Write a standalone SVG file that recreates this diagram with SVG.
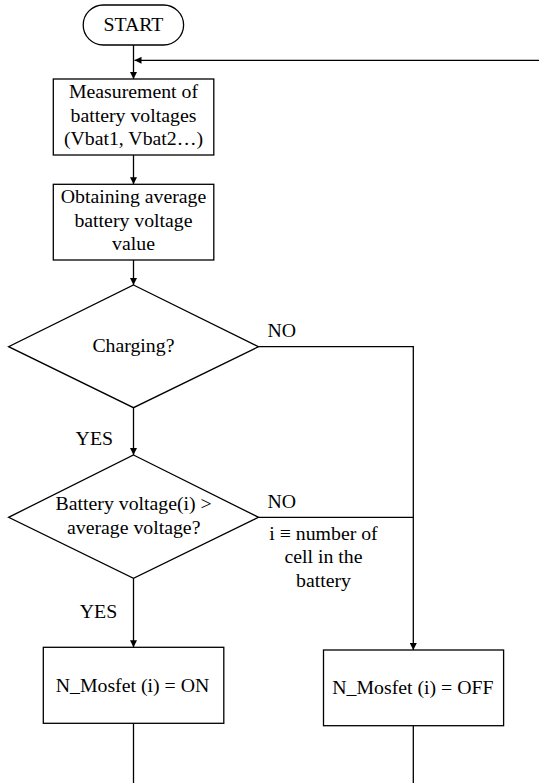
<svg xmlns="http://www.w3.org/2000/svg" width="539" height="783" viewBox="0 0 539 783">
<defs>
  <marker id="arrow" markerWidth="8" markerHeight="7" refX="7" refY="3.5" orient="auto" markerUnits="userSpaceOnUse">
    <path d="M0,0 L7,3.5 L0,7 Z" fill="#000000"/>
  </marker>
</defs>
<rect width="539" height="783" fill="#ffffff"/>
<g id="connectors" fill="none" stroke="#000000" stroke-width="1.3">
  <line x1="133.5" y1="45" x2="133.5" y2="79" marker-end="url(#arrow)"/>
  <line x1="539" y1="60.3" x2="134.5" y2="60.3" marker-end="url(#arrow)"/>
  <line x1="133.5" y1="155" x2="133.5" y2="184.3" marker-end="url(#arrow)"/>
  <line x1="133.5" y1="260" x2="133.5" y2="285" marker-end="url(#arrow)"/>
  <line x1="133.5" y1="407.7" x2="133.5" y2="455" marker-end="url(#arrow)"/>
  <polyline points="258.5,346.7 413.3,346.7 413.3,650" marker-end="url(#arrow)"/>
  <line x1="258.5" y1="517.3" x2="413.3" y2="517.3"/>
  <line x1="133.5" y1="578.3" x2="133.5" y2="647.3" marker-end="url(#arrow)"/>
  <line x1="133.5" y1="723.3" x2="133.5" y2="783"/>
  <line x1="413.3" y1="725.7" x2="413.3" y2="783"/>
</g>
<g id="labels" fill="#000000">
  <text x="267.4" y="336.7" font-family="Liberation Serif" font-size="19.8">NO</text>
  <text x="75.6" y="445" font-family="Liberation Serif" font-size="19.8">YES</text>
  <text x="267.4" y="508.3" font-family="Liberation Serif" font-size="19.8">NO</text>
  <text x="79.8" y="618.3" font-family="Liberation Serif" font-size="19.8">YES</text>
  <text x="323.5" y="539.5" font-family="Liberation Serif" font-size="19.8" text-anchor="middle">i ≡ number of</text>
  <text x="323.5" y="563.3" font-family="Liberation Serif" font-size="19.8" text-anchor="middle">cell in the</text>
  <text x="323.5" y="586.7" font-family="Liberation Serif" font-size="19.8" text-anchor="middle">battery</text>
</g>
<g id="start">
  <rect x="83.2" y="5" width="100.4" height="40" rx="20" ry="20" fill="#ffffff" stroke="#000000" stroke-width="1.3"/>
  <text x="133.4" y="31" font-family="Liberation Serif" font-size="19.8" text-anchor="middle">START</text>
</g>
<g id="measure">
  <rect x="53.3" y="79" width="160.5" height="76" fill="#ffffff" stroke="#000000" stroke-width="1.3"/>
  <text x="133.5" y="98.3" font-family="Liberation Serif" font-size="19.8" text-anchor="middle">Measurement of</text>
  <text x="133.5" y="121.7" font-family="Liberation Serif" font-size="19.8" text-anchor="middle">battery voltages</text>
  <text x="133.5" y="145" font-family="Liberation Serif" font-size="19.8" text-anchor="middle">(Vbat1, Vbat2…)</text>
</g>
<g id="average">
  <rect x="53.3" y="184.3" width="160.5" height="75.7" fill="#ffffff" stroke="#000000" stroke-width="1.3"/>
  <text x="133.5" y="203.3" font-family="Liberation Serif" font-size="19.8" text-anchor="middle">Obtaining average</text>
  <text x="133.5" y="226.7" font-family="Liberation Serif" font-size="19.8" text-anchor="middle">battery voltage</text>
  <text x="133.5" y="250" font-family="Liberation Serif" font-size="19.8" text-anchor="middle">value</text>
</g>
<g id="charging">
  <polygon points="133.5,285 258.5,346.7 133.5,407.7 8.6,346.7" fill="#ffffff" stroke="#000000" stroke-width="1.3"/>
  <text x="133.4" y="351.7" font-family="Liberation Serif" font-size="19.8" text-anchor="middle">Charging?</text>
</g>
<g id="compare">
  <polygon points="133.5,455 258.5,517.3 133.5,578.3 8.6,517.3" fill="#ffffff" stroke="#000000" stroke-width="1.3"/>
  <text x="133.7" y="510" font-family="Liberation Serif" font-size="19.8" text-anchor="middle">Battery voltage(i) &gt;</text>
  <text x="133.7" y="533.5" font-family="Liberation Serif" font-size="19.8" text-anchor="middle">average voltage?</text>
</g>
<g id="on">
  <rect x="43.3" y="647.3" width="180.5" height="76" fill="#ffffff" stroke="#000000" stroke-width="1.3"/>
  <text x="132.5" y="691.7" font-family="Liberation Serif" font-size="19.8" text-anchor="middle">N_Mosfet (i) = ON</text>
</g>
<g id="off">
  <rect x="323.5" y="650" width="180.1" height="75.7" fill="#ffffff" stroke="#000000" stroke-width="1.3"/>
  <text x="412.9" y="694" font-family="Liberation Serif" font-size="19.8" text-anchor="middle">N_Mosfet (i) = OFF</text>
</g>
</svg>
